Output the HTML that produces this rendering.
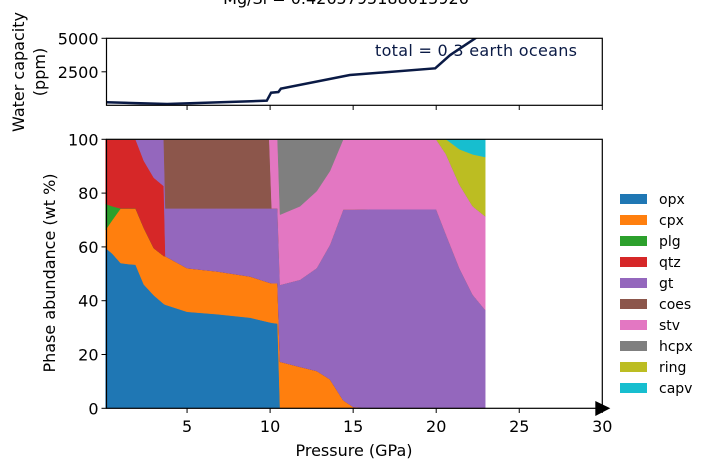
<!DOCTYPE html>
<html><head><meta charset="utf-8"><style>
html,body{margin:0;padding:0;background:#fff;}
svg text{font-family:"DejaVu Sans","Liberation Sans",sans-serif;fill:#000;}
</style></head><body>
<svg id="chart" width="707" height="469" viewBox="0 0 707 469" xmlns="http://www.w3.org/2000/svg">
<text x="346" y="4" font-size="16" text-anchor="middle">Mg/Si = 0.4265795188015926</text>
<defs><clipPath id="tc"><rect x="106.5" y="38.3" width="495.8" height="67"/></clipPath></defs>
<g id="gtop"></g>
<g id="gbot"></g>
<g id="glegend"></g>
</svg>
<script>
const pressures=[0.1,0.5,1.0,1.5,1.9,2.4,3.0,3.6,3.7,5.0,6.8,8.8,9.95,10.1,10.45,10.6,11.8,12.8,13.6,14.4,15.0,16,19.9,20.0,20.6,21.4,22.2,22.95];
const opx =[59.6,57.5,54,53.6,53.4,46,42,38.8,38.5,35.9,35,33.7,32,31.8,31.5,0,0,0,0,0,0,0,0,0,0,0,0,0];
const cpx =[6.8,12.5,20.3,20.7,20.9,21,17.5,17.8,18,16.2,15.9,15.3,14.7,14.7,15,17.3,15.4,13.9,10.8,3,0.5,0,0,0,0,0,0,0];
const plg =[9.6,5.1,0,0,0,0,0,0,0,0,0,0,0,0,0,0,0,0,0,0,0,0,0,0,0,0,0,0];
const qtz =[24,24.9,25.7,25.7,25.7,25,26.2,26,0,0,0,0,0,0,0,0,0,0,0,0,0,0,0,0,0,0,0,0];
const gt  =[0,0,0,0,0,8,14.3,17.4,17.8,22.2,23.4,25.3,27.6,27.8,27.8,28.6,32.4,38.2,50,70.9,73.4,74,74,74,64.5,52.1,42.2,36.6];
const coes=[0,0,0,0,0,0,0,0,25.7,25.7,25.7,25.7,25.7,0,0,0,0,0,0,0,0,0,0,0,0,0,0,0];
const stv =[0,0,0,0,0,0,0,0,0,0,0,0,0,25.7,25.7,26.1,27.3,28.6,27.4,26.1,26.1,26,26,26,29.9,31.1,32.9,34.8];
const hcpx=[0,0,0,0,0,0,0,0,0,0,0,0,0,0,0,28,24.9,19.3,11.8,0,0,0,0,0,0,0,0,0];
const ring=[0,0,0,0,0,0,0,0,0,0,0,0,0,0,0,0,0,0,0,0,0,0,0,0,5.6,13.1,19.3,22];
const capv=[0,0,0,0,0,0,0,0,0,0,0,0,0,0,0,0,0,0,0,0,0,0,0,0,0,3.7,5.6,6.6];
const phaseNames=["opx","cpx","plg","qtz","gt","coes","stv","hcpx","ring","capv"];
const phaseColors=["#1f77b4","#ff7f0e","#2ca02c","#d62728","#9467bd","#8c564b","#e377c2","#7f7f7f","#bcbd22","#17becf"];
const phaseData=[opx,cpx,plg,qtz,gt,coes,stv,hcpx,ring,capv];
const waterP=[0.16,3.8,9.8,10.06,10.5,10.65,14.8,19.94,20.84,22.35,23];
const waterV=[230,97,345,940,990,1240,2260,2760,3750,5000,5500];
const xTicks=[5,10,15,20,25,30];
const yTicks=[0,20,40,60,80,100];
const wTicks=[2500,5000];

const NS="http://www.w3.org/2000/svg";
const L=106.5,R=602.3;
const xS=p=>L+(p-0.15)*(R-L)/(30-0.15);
const yS=v=>408.3-v*(408.3-139.3)/100;
const wS=v=>105.3-v*(105.3-38.3)/5000;
function mk(tag,attrs,parent){const e=document.createElementNS(NS,tag);for(const k in attrs)e.setAttribute(k,attrs[k]);parent.appendChild(e);return e;}
const gTop=document.getElementById('gtop'),gBot=document.getElementById('gbot'),gLeg=document.getElementById('glegend');

const cum=pressures.map(()=>0);
phaseData.forEach((arr,i)=>{
  const lower=cum.slice();
  arr.forEach((v,j)=>cum[j]+=v);
  let d="";
  pressures.forEach((p,j)=>{d+=(j?"L":"M")+xS(p).toFixed(2)+","+yS(cum[j]).toFixed(2);});
  for(let j=pressures.length-1;j>=0;j--)d+="L"+xS(pressures[j]).toFixed(2)+","+yS(lower[j]).toFixed(2);
  d+="Z";
  const a=mk('path',{d:d,fill:phaseColors[i],stroke:phaseColors[i],'stroke-width':0.5},gBot);
  
  
});
const fr=mk('rect',{x:L,y:139.3,width:R-L,height:269,fill:'none',stroke:'#000','stroke-width':1.2},gBot);


const arrow=mk('polygon',{points:`${R-7},401 ${R+8},408.3 ${R-7},416`,fill:'#000'},gBot);


xTicks.forEach(t=>{
  mk('line',{x1:xS(t),x2:xS(t),y1:408.3,y2:413,stroke:'#000'},gBot);
  const tx=mk('text',{x:xS(t),y:432,'font-size':16,'text-anchor':'middle'},gBot);
  tx.textContent=t;
  
  
  mk('line',{x1:xS(t),x2:xS(t),y1:105.3,y2:110,stroke:'#000'},gTop);
});
yTicks.forEach(t=>{
  mk('line',{x1:L-5,x2:L,y1:yS(t),y2:yS(t),stroke:'#000'},gBot);
  const tx=mk('text',{x:L-8,y:yS(t)+6,'font-size':16,'text-anchor':'end'},gBot);
  tx.textContent=t;
  
  
});
const xl=mk('text',{x:354,y:456,'font-size':16,'text-anchor':'middle'},gBot);
xl.textContent="Pressure (GPa)";


const yl=mk('text',{x:0,y:0,'font-size':16,'text-anchor':'middle',transform:'translate(55,273) rotate(-90)'},gBot);
yl.textContent="Phase abundance (wt %)";



let wd="";
waterP.forEach((p,j)=>{wd+=(j?"L":"M")+xS(p).toFixed(2)+","+wS(waterV[j]).toFixed(2);});
const wl=mk('path',{d:wd,fill:'none',stroke:'#0a1a45','stroke-width':2.5,'clip-path':'url(#tc)'},gTop);


const tf=mk('rect',{x:L,y:38.3,width:R-L,height:67,fill:'none',stroke:'#000','stroke-width':1.2},gTop);


wTicks.forEach(t=>{
  mk('line',{x1:L-5,x2:L,y1:wS(t),y2:wS(t),stroke:'#000'},gTop);
  const tx=mk('text',{x:L-8,y:wS(t)+6,'font-size':16,'text-anchor':'end'},gTop);
  tx.textContent=t;
  
  
});
const tt=mk('text',{x:375,y:56,'font-size':16,textLength:202,style:'fill:#0a1a45'},gTop);
tt.textContent="total = 0.3 earth oceans";


const wy=mk('text',{x:0,y:0,'font-size':16,'text-anchor':'middle',transform:'translate(24,72) rotate(-90)'},gTop);
wy.textContent="Water capacity";


const wy2=mk('text',{x:0,y:0,'font-size':16,'text-anchor':'middle',transform:'translate(45,72) rotate(-90)'},gTop);
wy2.textContent="(ppm)";



phaseNames.forEach((n,i)=>{
  const cy=199+i*21;
  const sw=mk('rect',{x:620,y:cy-5,width:27,height:10,fill:phaseColors[i]},gLeg);
  
  
  const tx=mk('text',{x:659,y:cy+5,'font-size':14},gLeg);
  tx.textContent=n;
  
  
});
</script>
</body></html>
